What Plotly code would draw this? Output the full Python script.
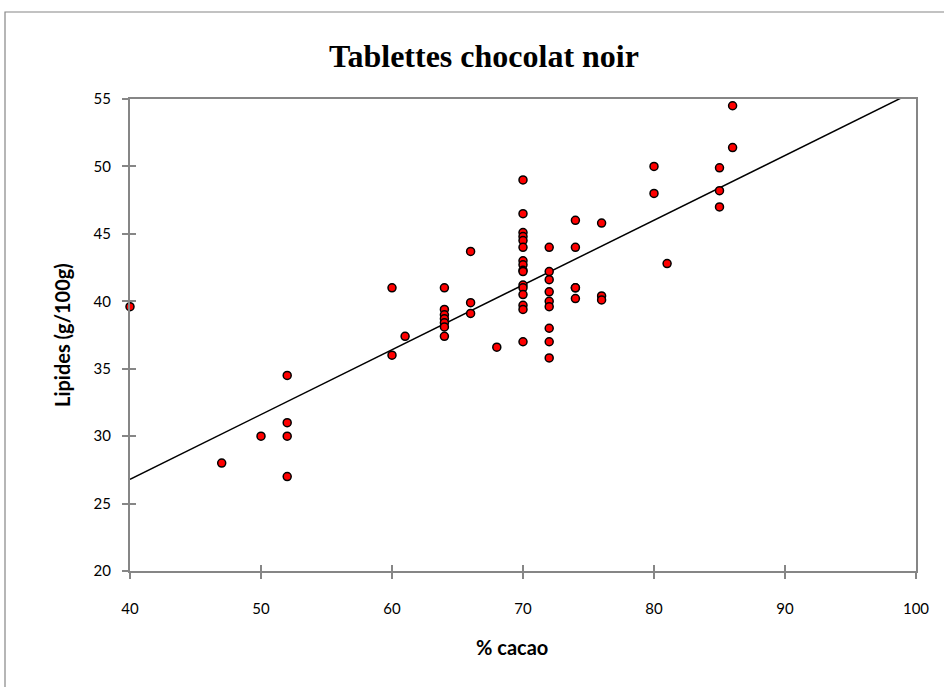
import numpy as np
import plotly.graph_objects as go

# % cacao and fat content (g/100g) of dark chocolate bars
cacao = [
    40, 47, 50,
    52, 52, 52, 52,
    60, 60, 61,
    64, 64, 64, 64, 64, 64, 64,
    66, 66, 66, 68,
    70, 70, 70, 70, 70, 70, 70, 70, 70, 70, 70, 70, 70, 70, 70, 70,
    72, 72, 72, 72, 72, 72, 72, 72, 72,
    74, 74, 74, 74, 74,
    76, 76, 76,
    80, 80, 81,
    85, 85, 85, 86, 86,
]
lipides = [
    39.6, 28.0, 30.0,
    34.5, 31.0, 30.0, 27.0,
    41.0, 36.0, 37.4,
    41.0, 39.4, 39.0, 38.7, 38.4, 38.1, 37.4,
    43.7, 39.9, 39.1, 36.6,
    49.0, 46.5, 45.1, 44.8, 44.5, 44.0, 43.0, 42.7, 42.3, 42.2, 41.2, 41.0, 40.5, 39.7, 39.4, 37.0,
    44.0, 42.2, 41.6, 40.7, 40.0, 39.6, 38.0, 37.0, 35.8,
    46.0, 44.0, 41.0, 41.0, 40.2,
    45.8, 40.4, 40.1,
    50.0, 48.0, 42.8,
    49.9, 48.2, 47.0, 54.5, 51.4,
]

# linear trend line coefficients (lipides = slope * cacao + intercept)
trend_slope = 0.4804
trend_intercept = 7.58

x_range = [40, 100]
y_range = [20, 55]
x_ticks = [40, 50, 60, 70, 80, 90, 100]
y_ticks = [20, 25, 30, 35, 40, 45, 50, 55]

trend_x = np.linspace(x_range[0], x_range[1], 2)
trend_y = trend_slope * trend_x + trend_intercept

axis_grey = "#868686"
sans = "Lato, Calibri, sans-serif"
tick_font = dict(family=sans, size=15, color="#000000")
label_font = dict(family=sans, size=20, color="#000000")

fig = go.Figure()
fig.add_trace(go.Scatter(
    x=trend_x, y=trend_y, mode="lines",
    line=dict(color="#000000", width=1.5),
    hoverinfo="skip", showlegend=False, cliponaxis=True,
))
fig.add_trace(go.Scatter(
    x=cacao, y=lipides, mode="markers",
    marker=dict(color="#ff0000", size=8, line=dict(color="#000000", width=1.5)),
    showlegend=False, cliponaxis=False,
))
# helper trace carrying the inner half of the crossing ticks
fig.add_trace(go.Scatter(x=[None], y=[None], xaxis="x2", yaxis="y2", showlegend=False))

common = dict(showgrid=False, zeroline=False, showline=True, linecolor=axis_grey,
              linewidth=2, tickcolor=axis_grey, tickwidth=1.5, ticklen=6)

fig.update_layout(
    width=944, height=687,
    margin=dict(l=130, r=28, t=99, b=116),
    paper_bgcolor="#ffffff", plot_bgcolor="#ffffff",
    title=dict(text="<b>Tablettes chocolat noir</b>", x=484 / 944, xanchor="center",
               y=1 - 56 / 687, yanchor="middle",
               font=dict(family="Liberation Serif, Cambria, serif", size=32, color="#000000")),
    xaxis=dict(range=x_range, tickvals=x_ticks, ticks="outside", mirror=True,
               tickfont=tick_font, ticklabelstandoff=17, **common),
    yaxis=dict(range=y_range, tickvals=y_ticks, ticks="outside", mirror=True,
               tickfont=tick_font, ticklabelstandoff=8, **common),
    xaxis2=dict(range=x_range, tickvals=x_ticks, ticks="inside", overlaying="x",
                showticklabels=False, **common),
    yaxis2=dict(range=y_range, tickvals=y_ticks, ticks="inside", overlaying="y",
                showticklabels=False, **common),
    annotations=[
        dict(text="<b>% cacao</b>", xref="paper", yref="paper",
             x=(512 - 130) / 786, y=-(647 - 571) / 472, xanchor="center", yanchor="middle",
             showarrow=False, font=label_font),
        dict(text="<b>Lipides (g/100g)</b>", xref="paper", yref="paper",
             x=(62 - 130) / 786, y=(571 - 335) / 472, xanchor="center", yanchor="middle",
             textangle=-90, showarrow=False, font=label_font),
    ],
    shapes=[
        dict(type="rect", xref="paper", yref="paper",
             x0=(5 - 130) / 786, x1=1.2, y0=-0.4, y1=(571 - 12) / 472,
             line=dict(color=axis_grey, width=1.2), fillcolor="rgba(0,0,0,0)", layer="below"),
    ],
)

fig.write_html("out.html")
